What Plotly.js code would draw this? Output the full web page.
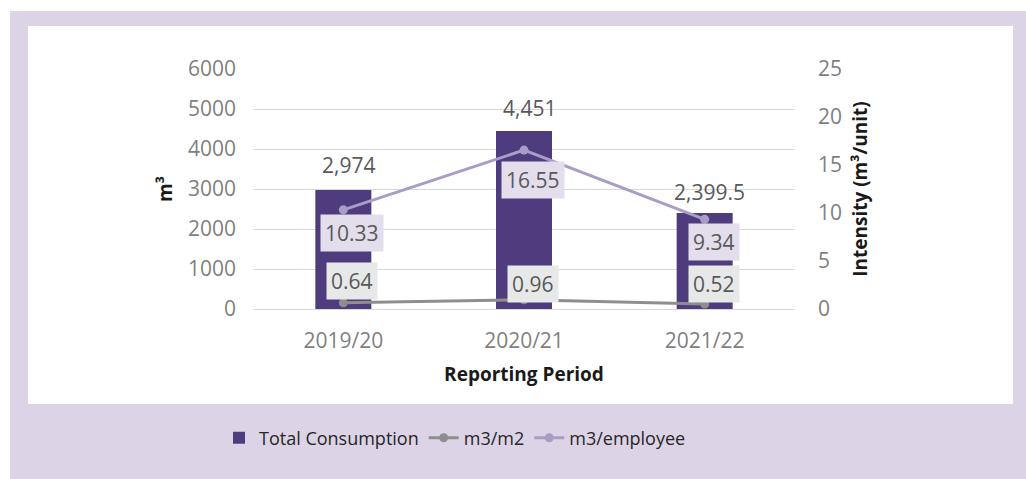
<!DOCTYPE html>
<html>
<head>
<meta charset="utf-8">
<script src="https://cdn.plot.ly/plotly-3.0.1.min.js"></script>
<style>
html,body{margin:0;padding:0;background:#ffffff;}
#chart{width:1026px;height:479px;}
</style>
</head>
<body>
<div id="chart"></div>
<script>
// ---- data ----
const periods = ["2019/20", "2020/21", "2021/22"];
const totalConsumption = [2974, 4451, 2399.5];
const perM2 = [0.64, 0.96, 0.52];
const perEmployee = [10.33, 16.55, 9.34];
const leftTicks = [0, 1000, 2000, 3000, 4000, 5000, 6000];
const rightTicks = [0, 5, 10, 15, 20, 25];

// ---- styling ----
const FONT = "Open Sans, Noto Sans, sans-serif";
const C_BAR = "#4F3C7E";
const C_M2 = "#8E8E8E";
const C_EMP = "#A99DC6";
const C_FRAME = "#DCD4E6";
const C_TICK = "#7F7F7F";
const C_LABEL = "#595959";

const W = 1026, H = 479;
const M = {l: 253, r: 231, t: 69, b: 170};
const pw = W - M.l - M.r, ph = H - M.t - M.b;
const px = x => (x - M.l) / pw;
const py = y => (H - M.b - y) / ph;

const traces = [
  {
    type: "bar", name: "Total Consumption", x: periods, y: totalConsumption,
    marker: {color: C_BAR}, yaxis: "y", hoverinfo: "skip"
  },
  {
    type: "scatter", mode: "lines+markers", name: "m3/m2", x: periods, y: perM2,
    yaxis: "y2", line: {color: C_M2, width: 3}, marker: {color: C_M2, size: 9},
    hoverinfo: "skip"
  },
  {
    type: "scatter", mode: "lines+markers", name: "m3/employee", x: periods, y: perEmployee,
    yaxis: "y2", line: {color: C_EMP, width: 3}, marker: {color: C_EMP, size: 9},
    hoverinfo: "skip"
  }
];

const annotations = [];
const barShift = [25, 23, 21];
totalConsumption.forEach((v, i) => {
  annotations.push({
    x: periods[i], y: v, xref: "x", yref: "y", showarrow: false,
    text: v.toLocaleString("en-US"), yanchor: "middle", yshift: barShift[i], xshift: 5,
    font: {family: FONT, size: 21, color: C_LABEL}
  });
});
const empShift = [-23, -30, -23];
perEmployee.forEach((v, i) => {
  annotations.push({
    x: periods[i], y: v, xref: "x", yref: "y2", showarrow: false,
    text: v.toFixed(2), yanchor: "middle", yshift: empShift[i], xshift: 9,
    bgcolor: "#E4DDEC", borderpad: 4,
    font: {family: FONT, size: 21, color: C_LABEL}
  });
});
const m2Shift = [22, 16, 20];
perM2.forEach((v, i) => {
  annotations.push({
    x: periods[i], y: v, xref: "x", yref: "y2", showarrow: false,
    text: v.toFixed(2), yanchor: "middle", yshift: m2Shift[i], xshift: 9,
    bgcolor: "#E7E8E8", borderpad: 4,
    font: {family: FONT, size: 21, color: C_LABEL}
  });
});

const shapes = [
  {type: "rect", xref: "paper", yref: "paper", layer: "below",
   x0: px(10), x1: px(1026), y0: py(479), y1: py(11),
   fillcolor: C_FRAME, line: {width: 0}},
  {type: "rect", xref: "paper", yref: "paper", layer: "below",
   x0: px(28), x1: px(1013), y0: py(404), y1: py(26),
   fillcolor: "#ffffff", line: {width: 0}}
];

const layout = {
  width: W, height: H,
  margin: M,
  paper_bgcolor: "#ffffff",
  plot_bgcolor: "rgba(0,0,0,0)",
  font: {family: FONT, size: 21, color: C_TICK},
  showlegend: true,
  bargap: 0.69,
  hovermode: false,
  xaxis: {
    type: "category", showgrid: false, showline: false, zeroline: false,
    ticks: "", ticklabelstandoff: 17,
    tickfont: {family: FONT, size: 21, color: C_TICK},
    title: {text: "Reporting Period", standoff: 14,
            font: {family: FONT, size: 19, color: "#1a1a1a", weight: 700}}
  },
  yaxis: {
    range: [0, 6000], tickvals: leftTicks, ticktext: leftTicks.map(String),
    showgrid: true, gridcolor: "#D9D9D9", gridwidth: 1,
    zeroline: true, zerolinecolor: "#D9D9D9", zerolinewidth: 1,
    showline: false, ticks: "", ticklabelstandoff: 16,
    tickfont: {family: FONT, size: 21, color: C_TICK},
    title: {text: "m³", standoff: 10,
            font: {family: FONT, size: 19, color: "#1a1a1a", weight: 700}}
  },
  yaxis2: {
    overlaying: "y", side: "right", range: [0, 25],
    tickvals: rightTicks, ticktext: rightTicks.map(String),
    showgrid: false, zeroline: false, showline: false,
    ticks: "", ticklabelstandoff: 22,
    tickfont: {family: FONT, size: 21, color: C_TICK},
    title: {text: "Intensity (m³/unit)", standoff: 12,
            font: {family: FONT, size: 19, color: "#1a1a1a", weight: 700}}
  },
  legend: {
    orientation: "h", x: px(219), xanchor: "left", xref: "paper",
    y: py(438), yanchor: "middle", bgcolor: "rgba(0,0,0,0)",
    font: {family: FONT, size: 18, color: "#262626"},
    itemwidth: 30, tracegroupgap: 0
  },
  annotations: annotations,
  shapes: shapes
};

Plotly.newPlot("chart", traces, layout, {displayModeBar: false, staticPlot: true});
</script>
</body>
</html>
